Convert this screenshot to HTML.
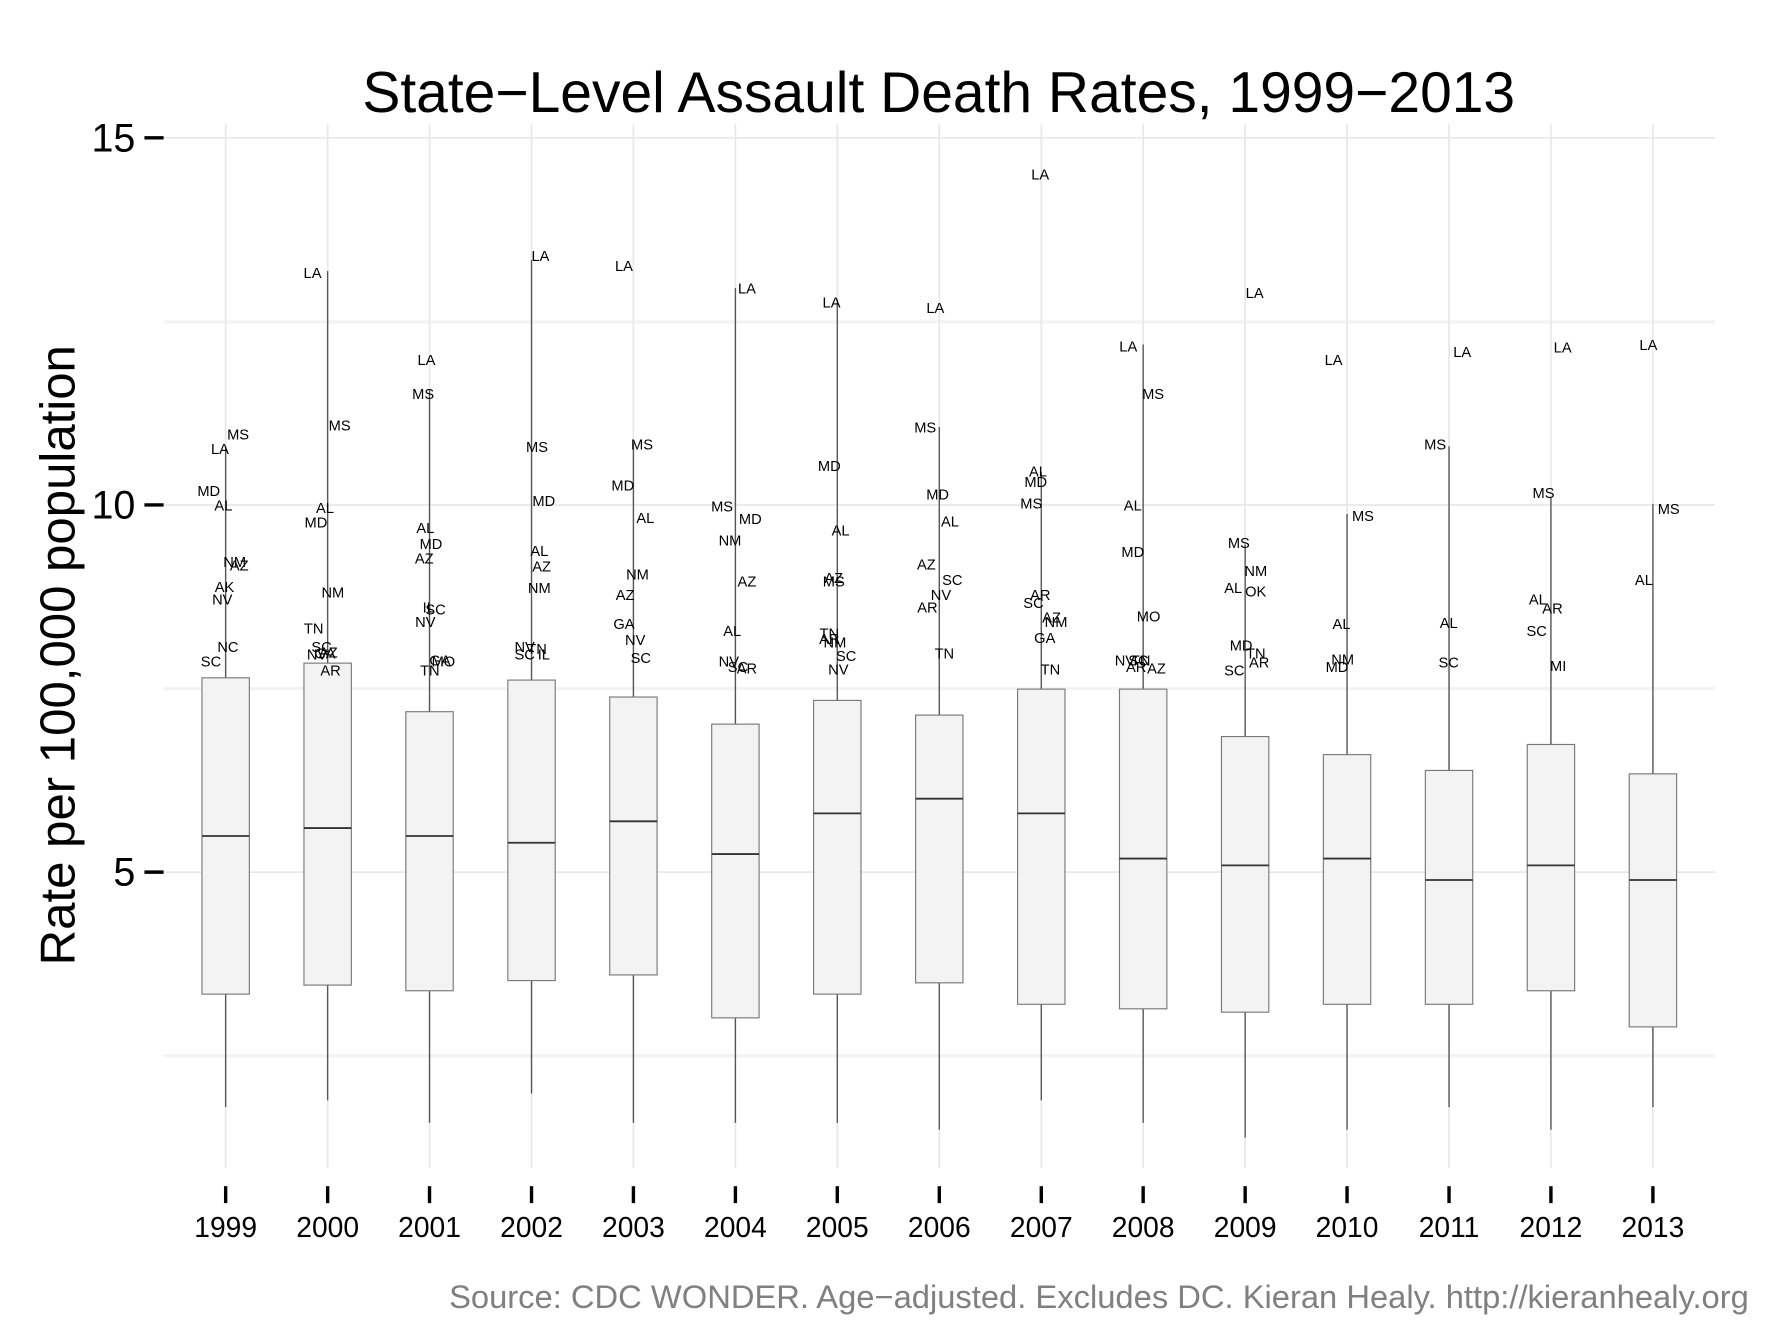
<!DOCTYPE html>
<html><head><meta charset="utf-8"><style>
html,body{margin:0;padding:0;background:#fff;}
svg{display:block;}
text{font-family:"Liberation Sans",Arial,sans-serif;}
.l{font-size:13px;text-anchor:middle;fill:#000;}
</style></head><body>
<svg width="1768" height="1324" viewBox="0 0 1567 1172" preserveAspectRatio="none" xmlns="http://www.w3.org/2000/svg">
<rect width="1567" height="1172" fill="#fff"/>
<g stroke="#f3f3f3" stroke-width="3">
<line x1="145" y1="285" x2="1520" y2="285"/>
<line x1="145" y1="609.5" x2="1520" y2="609.5"/>
<line x1="145" y1="934.5" x2="1520" y2="934.5"/>
</g>
<g stroke="#e8e8e8" stroke-width="1.5">
<line x1="145" y1="122" x2="1520" y2="122"/>
<line x1="145" y1="447" x2="1520" y2="447"/>
<line x1="145" y1="772" x2="1520" y2="772"/>
<line x1="200" y1="110" x2="200" y2="1034"/><line x1="290.4" y1="110" x2="290.4" y2="1034"/><line x1="380.7" y1="110" x2="380.7" y2="1034"/><line x1="471.1" y1="110" x2="471.1" y2="1034"/><line x1="561.4" y1="110" x2="561.4" y2="1034"/><line x1="651.8" y1="110" x2="651.8" y2="1034"/><line x1="742.1" y1="110" x2="742.1" y2="1034"/><line x1="832.5" y1="110" x2="832.5" y2="1034"/><line x1="922.9" y1="110" x2="922.9" y2="1034"/><line x1="1013.2" y1="110" x2="1013.2" y2="1034"/><line x1="1103.6" y1="110" x2="1103.6" y2="1034"/><line x1="1193.9" y1="110" x2="1193.9" y2="1034"/><line x1="1284.3" y1="110" x2="1284.3" y2="1034"/><line x1="1374.6" y1="110" x2="1374.6" y2="1034"/><line x1="1465" y1="110" x2="1465" y2="1034"/>
</g>
<g stroke="#555" stroke-width="1.2">
<line x1="200" y1="395" x2="200" y2="980"/>
<line x1="290.4" y1="240" x2="290.4" y2="974"/>
<line x1="380.7" y1="345" x2="380.7" y2="994"/>
<line x1="471.1" y1="230" x2="471.1" y2="968"/>
<line x1="561.4" y1="392" x2="561.4" y2="994"/>
<line x1="651.8" y1="255" x2="651.8" y2="994"/>
<line x1="742.1" y1="265" x2="742.1" y2="994"/>
<line x1="832.5" y1="378" x2="832.5" y2="1000"/>
<line x1="922.9" y1="418" x2="922.9" y2="974"/>
<line x1="1013.2" y1="305" x2="1013.2" y2="994"/>
<line x1="1103.6" y1="482" x2="1103.6" y2="1007"/>
<line x1="1193.9" y1="455" x2="1193.9" y2="1000"/>
<line x1="1284.3" y1="395" x2="1284.3" y2="980"/>
<line x1="1374.6" y1="440" x2="1374.6" y2="1000"/>
<line x1="1465" y1="446" x2="1465" y2="980"/>
</g>
<g fill="#f3f3f3" stroke="#777" stroke-width="1">
<rect x="179" y="600" width="42" height="280"/>
<rect x="269.4" y="587" width="42" height="285"/>
<rect x="359.7" y="630" width="42" height="247"/>
<rect x="450.1" y="602" width="42" height="266"/>
<rect x="540.4" y="617" width="42" height="246"/>
<rect x="630.8" y="641" width="42" height="260"/>
<rect x="721.1" y="620" width="42" height="260"/>
<rect x="811.5" y="633" width="42" height="237"/>
<rect x="901.9" y="610" width="42" height="279"/>
<rect x="992.2" y="610" width="42" height="283"/>
<rect x="1082.6" y="652" width="42" height="244"/>
<rect x="1172.9" y="668" width="42" height="221"/>
<rect x="1263.3" y="682" width="42" height="207"/>
<rect x="1353.6" y="659" width="42" height="218"/>
<rect x="1444" y="685" width="42" height="224"/>
</g>
<g stroke="#333" stroke-width="1.6">
<line x1="179" y1="740" x2="221" y2="740"/>
<line x1="269.4" y1="733" x2="311.4" y2="733"/>
<line x1="359.7" y1="740" x2="401.7" y2="740"/>
<line x1="450.1" y1="746" x2="492.1" y2="746"/>
<line x1="540.4" y1="727" x2="582.4" y2="727"/>
<line x1="630.8" y1="756" x2="672.8" y2="756"/>
<line x1="721.1" y1="720" x2="763.1" y2="720"/>
<line x1="811.5" y1="707" x2="853.5" y2="707"/>
<line x1="901.9" y1="720" x2="943.9" y2="720"/>
<line x1="992.2" y1="760" x2="1034.2" y2="760"/>
<line x1="1082.6" y1="766" x2="1124.6" y2="766"/>
<line x1="1172.9" y1="760" x2="1214.9" y2="760"/>
<line x1="1263.3" y1="779" x2="1305.3" y2="779"/>
<line x1="1353.6" y1="766" x2="1395.6" y2="766"/>
<line x1="1444" y1="779" x2="1486" y2="779"/>
</g>
<g transform="translate(0,5)">
<text class="l" x="211" y="384">MS</text><text class="l" x="195" y="397">LA</text><text class="l" x="185" y="434">MD</text><text class="l" x="198" y="447">AL</text><text class="l" x="208" y="497">NM</text><text class="l" x="212" y="500">AZ</text><text class="l" x="199" y="519">AK</text><text class="l" x="197" y="530">NV</text><text class="l" x="202" y="572">NC</text><text class="l" x="187" y="585">SC</text>
<text class="l" x="277" y="241">LA</text><text class="l" x="301" y="376">MS</text><text class="l" x="288" y="449">AL</text><text class="l" x="280" y="462">MD</text><text class="l" x="295" y="524">NM</text><text class="l" x="278" y="556">TN</text><text class="l" x="285" y="572">SC</text><text class="l" x="281" y="579">NV</text><text class="l" x="288" y="578">GA</text><text class="l" x="291" y="577">AZ</text><text class="l" x="293" y="593">AR</text>
<text class="l" x="378" y="318">LA</text><text class="l" x="375" y="348">MS</text><text class="l" x="377" y="467">AL</text><text class="l" x="382" y="481">MD</text><text class="l" x="376" y="494">AZ</text><text class="l" x="380" y="537">IL</text><text class="l" x="386" y="539">SC</text><text class="l" x="377" y="550">NV</text><text class="l" x="390" y="584">GA</text><text class="l" x="393" y="585">MO</text><text class="l" x="381" y="593">TN</text>
<text class="l" x="479" y="226">LA</text><text class="l" x="476" y="395">MS</text><text class="l" x="482" y="443">MD</text><text class="l" x="478" y="487">AL</text><text class="l" x="480" y="501">AZ</text><text class="l" x="478" y="520">NM</text><text class="l" x="465" y="572">NV</text><text class="l" x="476" y="574">TN</text><text class="l" x="465" y="579">SC</text><text class="l" x="482" y="579">IL</text>
<text class="l" x="553" y="235">LA</text><text class="l" x="569" y="393">MS</text><text class="l" x="552" y="429">MD</text><text class="l" x="572" y="458">AL</text><text class="l" x="565" y="508">NM</text><text class="l" x="554" y="526">AZ</text><text class="l" x="553" y="552">GA</text><text class="l" x="563" y="566">NV</text><text class="l" x="568" y="582">SC</text>
<text class="l" x="662" y="255">LA</text><text class="l" x="640" y="448">MS</text><text class="l" x="665" y="459">MD</text><text class="l" x="647" y="478">NM</text><text class="l" x="662" y="514">AZ</text><text class="l" x="649" y="558">AL</text><text class="l" x="646" y="585">NV</text><text class="l" x="654" y="590">SC</text><text class="l" x="662" y="591">AR</text>
<text class="l" x="737" y="267">LA</text><text class="l" x="735" y="412">MD</text><text class="l" x="745" y="469">AL</text><text class="l" x="739" y="511">AZ</text><text class="l" x="739" y="514">MS</text><text class="l" x="735" y="560">TN</text><text class="l" x="735" y="565">AR</text><text class="l" x="740" y="568">NM</text><text class="l" x="750" y="580">SC</text><text class="l" x="743" y="592">NV</text>
<text class="l" x="829" y="272">LA</text><text class="l" x="820" y="378">MS</text><text class="l" x="831" y="437">MD</text><text class="l" x="842" y="461">AL</text><text class="l" x="821" y="499">AZ</text><text class="l" x="844" y="513">SC</text><text class="l" x="834" y="526">NV</text><text class="l" x="822" y="537">AR</text><text class="l" x="837" y="578">TN</text>
<text class="l" x="922" y="154">LA</text><text class="l" x="920" y="417">AL</text><text class="l" x="918" y="426">MD</text><text class="l" x="914" y="445">MS</text><text class="l" x="922" y="526">AR</text><text class="l" x="916" y="533">SC</text><text class="l" x="932" y="546">AZ</text><text class="l" x="936" y="550">NM</text><text class="l" x="926" y="564">GA</text><text class="l" x="931" y="592">TN</text>
<text class="l" x="1000" y="306">LA</text><text class="l" x="1022" y="348">MS</text><text class="l" x="1004" y="447">AL</text><text class="l" x="1004" y="488">MD</text><text class="l" x="1018" y="545">MO</text><text class="l" x="997" y="584">NV</text><text class="l" x="1009" y="584">SC</text><text class="l" x="1011" y="584">TN</text><text class="l" x="1007" y="590">AR</text><text class="l" x="1025" y="591">AZ</text>
<text class="l" x="1112" y="259">LA</text><text class="l" x="1098" y="480">MS</text><text class="l" x="1113" y="505">NM</text><text class="l" x="1093" y="520">AL</text><text class="l" x="1113" y="523">OK</text><text class="l" x="1100" y="571">MD</text><text class="l" x="1113" y="578">TN</text><text class="l" x="1094" y="593">SC</text><text class="l" x="1116" y="586">AR</text>
<text class="l" x="1182" y="318">LA</text><text class="l" x="1208" y="456">MS</text><text class="l" x="1189" y="552">AL</text><text class="l" x="1190" y="583">NM</text><text class="l" x="1185" y="590">MD</text>
<text class="l" x="1296" y="311">LA</text><text class="l" x="1272" y="393">MS</text><text class="l" x="1284" y="551">AL</text><text class="l" x="1284" y="586">SC</text>
<text class="l" x="1385" y="307">LA</text><text class="l" x="1368" y="436">MS</text><text class="l" x="1363" y="530">AL</text><text class="l" x="1376" y="538">AR</text><text class="l" x="1362" y="558">SC</text><text class="l" x="1381" y="589">MI</text>
<text class="l" x="1461" y="305">LA</text><text class="l" x="1479" y="450">MS</text><text class="l" x="1457" y="513">AL</text>
</g>
<g stroke="#000" stroke-width="3">
<line x1="128" y1="122" x2="145" y2="122"/><line x1="128" y1="447" x2="145" y2="447"/><line x1="128" y1="772" x2="145" y2="772"/>
<line x1="200" y1="1050" x2="200" y2="1065"/><line x1="290.4" y1="1050" x2="290.4" y2="1065"/><line x1="380.7" y1="1050" x2="380.7" y2="1065"/><line x1="471.1" y1="1050" x2="471.1" y2="1065"/><line x1="561.4" y1="1050" x2="561.4" y2="1065"/><line x1="651.8" y1="1050" x2="651.8" y2="1065"/><line x1="742.1" y1="1050" x2="742.1" y2="1065"/><line x1="832.5" y1="1050" x2="832.5" y2="1065"/><line x1="922.9" y1="1050" x2="922.9" y2="1065"/><line x1="1013.2" y1="1050" x2="1013.2" y2="1065"/><line x1="1103.6" y1="1050" x2="1103.6" y2="1065"/><line x1="1193.9" y1="1050" x2="1193.9" y2="1065"/><line x1="1284.3" y1="1050" x2="1284.3" y2="1065"/><line x1="1374.6" y1="1050" x2="1374.6" y2="1065"/><line x1="1465" y1="1050" x2="1465" y2="1065"/>
</g>
<g font-size="35" text-anchor="end" fill="#000">
<text x="120" y="134">15</text><text x="120" y="459">10</text><text x="120" y="784">5</text>
</g>
<g font-size="25" text-anchor="middle" fill="#000">
<text x="200" y="1095">1999</text><text x="290.4" y="1095">2000</text><text x="380.7" y="1095">2001</text><text x="471.1" y="1095">2002</text><text x="561.4" y="1095">2003</text><text x="651.8" y="1095">2004</text><text x="742.1" y="1095">2005</text><text x="832.5" y="1095">2006</text><text x="922.9" y="1095">2007</text><text x="1013.2" y="1095">2008</text><text x="1103.6" y="1095">2009</text><text x="1193.9" y="1095">2010</text><text x="1284.3" y="1095">2011</text><text x="1374.6" y="1095">2012</text><text x="1465" y="1095">2013</text>
</g>
<text x="832" y="99" font-size="50.5" text-anchor="middle" fill="#000">State−Level Assault Death Rates, 1999−2013</text>
<text transform="translate(66,580) rotate(-90)" font-size="43.5" text-anchor="middle" fill="#000">Rate per 100,000 population</text>
<text x="1550" y="1158" font-size="29" text-anchor="end" fill="#808080">Source: CDC WONDER. Age−adjusted. Excludes DC. Kieran Healy. http://kieranhealy.org</text>
</svg>
</body></html>
